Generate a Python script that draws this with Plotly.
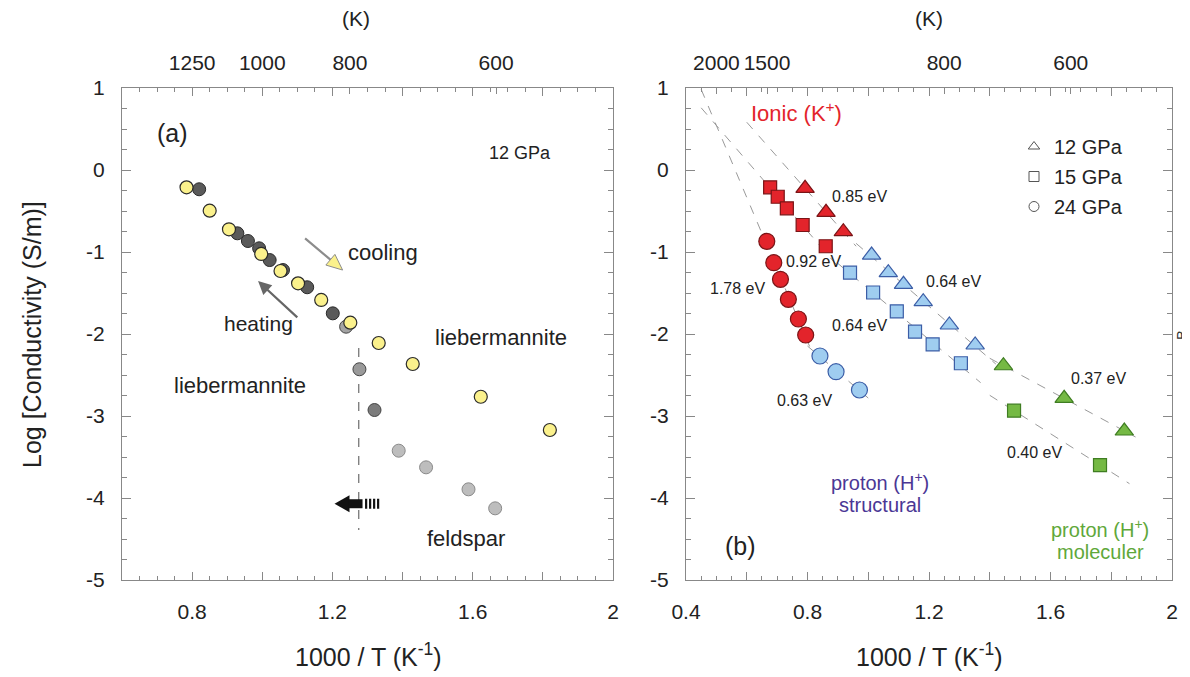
import numpy as np
import plotly.graph_objects as go

# ---------------- data: panel (a) ----------------
cool_x = [0.784, 0.850, 0.905, 0.997, 1.052, 1.102, 1.168, 1.251, 1.332, 1.429, 1.623, 1.820]
cool_y = [-0.211, -0.496, -0.723, -1.024, -1.232, -1.382, -1.585, -1.862, -2.110, -2.366, -2.765, -3.171]
heat_x = [0.820, 0.929, 0.959, 0.991, 1.021, 1.059, 1.128, 1.201]
heat_y = [-0.235, -0.772, -0.866, -0.955, -1.098, -1.220, -1.430, -1.748]
trans_x = [1.239, 1.277, 1.320]
trans_y = [-1.911, -2.430, -2.927]
trans_col = ["#a3a3a3", "#9a9a9a", "#7c7c7c"]
feld_x = [1.389, 1.467, 1.588, 1.664]
feld_y = [-3.423, -3.626, -3.894, -4.126]
transition_x = 1.275
transition_y = [-2.17, -4.39]

# ---------------- data: panel (b) ----------------
tri_ion_x = [0.792, 0.861, 0.918]
tri_ion_y = [-0.223, -0.516, -0.752]
tri_str_x = [1.011, 1.066, 1.116, 1.181, 1.267, 1.352]
tri_str_y = [-1.037, -1.252, -1.394, -1.606, -1.890, -2.134]
tri_mol_x = [1.445, 1.645, 1.843]
tri_mol_y = [-2.387, -2.784, -3.183]
sq_ion_x = [0.677, 0.702, 0.732, 0.784, 0.860]
sq_ion_y = [-0.211, -0.326, -0.467, -0.671, -0.930]
sq_str_x = [0.940, 1.016, 1.094, 1.154, 1.212, 1.305]
sq_str_y = [-1.252, -1.494, -1.723, -1.972, -2.126, -2.357]
sq_mol_x = [1.480, 1.763]
sq_mol_y = [-2.935, -3.598]
ci_ion_x = [0.666, 0.689, 0.711, 0.737, 0.770, 0.794]
ci_ion_y = [-0.870, -1.130, -1.333, -1.577, -1.817, -2.012]
ci_str_x = [0.841, 0.894, 0.971]
ci_str_y = [-2.268, -2.460, -2.683]

# fit-line x extents (xs, ys, x_from, x_to)
fits = [
    (tri_ion_x, tri_ion_y, 0.60, 0.96),
    (tri_str_x, tri_str_y, 0.96, 1.42),
    (tri_mol_x, tri_mol_y, 1.40, 1.88),
    (sq_ion_x[:4], sq_ion_y[:4], 0.45, 0.90),
    (sq_str_x, sq_str_y, 0.90, 1.37),
    (sq_mol_x, sq_mol_y, 1.40, 1.86),
    (ci_ion_x, ci_ion_y, 0.45, 0.82),
    (ci_str_x, ci_str_y, 0.80, 1.00),
]

top_a_T = [1250, 1000, 800, 600]
top_b_T = [2000, 1500, 800, 600]
legend_names = ["12 GPa", "15 GPa", "24 GPa"]
legend_symbols = ["triangle-up-open", "square-open", "circle-open"]

# ---------------- layout geometry ----------------
W, H = 1190, 677
OFF = 8  # page body margin


def PX(px):
    return (px - OFF) / W


def PY(py):
    return 1 - (py - OFF) / H


A_DOM = [PX(122), PX(613)]
B_DOM = [PX(686), PX(1172)]
Y_DOM = [PY(580), PY(88)]
A_RANGE = [0.6, 2.0]
B_RANGE = [0.4, 2.0]
Y_RANGE = [-5, 1]
FONT = "Arial, Liberation Sans, sans-serif"
TXT = "#222222"
TICK_FS = 21

px_per_x_a = (A_DOM[1] - A_DOM[0]) * W / (A_RANGE[1] - A_RANGE[0])
px_per_y = (Y_DOM[1] - Y_DOM[0]) * H / (Y_RANGE[1] - Y_RANGE[0])

fig = go.Figure()

# ----- panel (a) traces -----
fig.add_trace(go.Scatter(x=[transition_x, transition_x], y=transition_y,
                         mode="lines", line=dict(color="#777", width=1.3, dash="dash"),
                         xaxis="x", yaxis="y", showlegend=False, hoverinfo="skip"))
fig.add_trace(go.Scatter(x=feld_x, y=feld_y, mode="markers", xaxis="x", yaxis="y",
                         marker=dict(size=13, color="#bdbdbd", line=dict(color="#8a8a8a", width=1)),
                         showlegend=False))
fig.add_trace(go.Scatter(x=trans_x, y=trans_y, mode="markers", xaxis="x", yaxis="y",
                         marker=dict(size=13, color=trans_col, line=dict(color="#444", width=1)),
                         showlegend=False))
fig.add_trace(go.Scatter(x=heat_x, y=heat_y, mode="markers", xaxis="x", yaxis="y",
                         marker=dict(size=13, color="#5a5a5a", line=dict(color="#2a2a2a", width=1)),
                         showlegend=False))
fig.add_trace(go.Scatter(x=cool_x, y=cool_y, mode="markers", xaxis="x", yaxis="y",
                         marker=dict(size=13, color="#fbf18c", line=dict(color="#2a2a2a", width=1.2)),
                         showlegend=False))

# ----- panel (b) fit lines -----
for xs, ys, x0, x1 in fits:
    k, b = np.polyfit(xs, ys, 1)
    fx = np.array([x0, x1])
    fig.add_trace(go.Scatter(x=fx, y=k * fx + b, mode="lines", xaxis="x2", yaxis="y2",
                             line=dict(color="#9a9a9a", width=1, dash="dash"),
                             showlegend=False, hoverinfo="skip"))

RED, RED_L = "#e3242b", "#7a1416"
BLU, BLU_L = "#9fcdf0", "#3b5da6"
GRN, GRN_L = "#75b944", "#3f7d22"


def pts(x, y, sym, size, fill, edge):
    fig.add_trace(go.Scatter(x=x, y=y, mode="markers", xaxis="x2", yaxis="y2",
                             marker=dict(symbol=sym, size=size, color=fill,
                                         line=dict(color=edge, width=1.2)),
                             showlegend=False))


pts(ci_ion_x, ci_ion_y, "circle", 16, RED, RED_L)
pts(ci_str_x, ci_str_y, "circle", 16, BLU, BLU_L)
pts(sq_ion_x, sq_ion_y, "square", 13, RED, RED_L)
pts(sq_str_x, sq_str_y, "square", 13, BLU, BLU_L)
pts(sq_mol_x, sq_mol_y, "square", 13, GRN, GRN_L)
pts(tri_ion_x, tri_ion_y, "triangle-up", 16, RED, RED_L)
pts(tri_str_x, tri_str_y, "triangle-up", 16, BLU, BLU_L)
pts(tri_mol_x, tri_mol_y, "triangle-up", 16, GRN, GRN_L)

# legend entries
for nm, sym in zip(legend_names, legend_symbols):
    fig.add_trace(go.Scatter(x=[None], y=[None], mode="markers", name=nm, xaxis="x2", yaxis="y2",
                             legendgroup=nm,
                             marker=dict(symbol=sym, size=10, color="#555",
                                         line=dict(color="#555", width=1))))

# dummy traces for top axes
fig.add_trace(go.Scatter(x=[None], y=[None], xaxis="x3", yaxis="y", showlegend=False))
fig.add_trace(go.Scatter(x=[None], y=[None], xaxis="x4", yaxis="y2", showlegend=False))


# ---------------- axes ----------------
def bottom_axis(dom, rng, labels):
    vals = [round(v, 2) for v in np.arange(0.4, 2.0001, 0.2) if v >= rng[0] - 1e-9]
    text = [labels.get(round(v, 2), "") for v in vals]
    return dict(domain=dom, range=rng, tickmode="array", tickvals=vals, ticktext=text,
                ticks="inside", ticklen=8, tickcolor="#888", tickwidth=1,
                minor=dict(dtick=0.05, tick0=0, ticks="inside", ticklen=4, tickcolor="#888"),
                showline=True, linecolor="#888", linewidth=1, mirror="ticks",
                showgrid=False, zeroline=False, ticklabelstandoff=13, automargin=False,
                tickfont=dict(size=TICK_FS, color=TXT, family=FONT))


def left_axis(anchor):
    vals = list(range(-5, 2))
    return dict(domain=Y_DOM, range=Y_RANGE, anchor=anchor, tickmode="array", tickvals=vals,
                ticktext=[str(v) for v in vals],
                ticks="inside", ticklen=9, tickcolor="#888", tickwidth=1,
                minor=dict(dtick=0.25, tick0=0, ticks="inside", ticklen=5, tickcolor="#888"),
                showline=True, linecolor="#888", linewidth=1, mirror="ticks",
                showgrid=False, zeroline=False, ticklabelstandoff=12, automargin=False,
                tickfont=dict(size=TICK_FS, color=TXT, family=FONT))


def top_axis(dom, rng, over, Ts):
    return dict(domain=dom, range=rng, overlaying=over, side="top", anchor="y" if over == "x" else "y2",
                tickmode="array", tickvals=[1000.0 / t for t in Ts], ticktext=[str(t) for t in Ts],
                ticks="inside", ticklen=6, tickcolor="#888", showline=False, showgrid=False,
                zeroline=False, ticklabelstandoff=13, automargin=False,
                tickfont=dict(size=TICK_FS, color=TXT, family=FONT))


fig.update_layout(
    width=W, height=H, margin=dict(l=0, r=0, t=0, b=0, autoexpand=False),
    paper_bgcolor="white", plot_bgcolor="white",
    font=dict(family=FONT, color=TXT),
    xaxis=bottom_axis(A_DOM, A_RANGE, {0.8: "0.8", 1.2: "1.2", 1.6: "1.6", 2.0: "2"}) | dict(anchor="y"),
    xaxis2=bottom_axis(B_DOM, B_RANGE, {0.4: "0.4", 0.8: "0.8", 1.2: "1.2", 1.6: "1.6", 2.0: "2"}) | dict(anchor="y2"),
    xaxis3=top_axis(A_DOM, A_RANGE, "x", top_a_T),
    xaxis4=top_axis(B_DOM, B_RANGE, "x2", top_b_T),
    yaxis=left_axis("x"),
    yaxis2=left_axis("x2"),
    showlegend=True,
    legend=dict(x=PX(1014), y=PY(127), xanchor="left", yanchor="top",
                font=dict(size=20, color=TXT, family=FONT), bgcolor="rgba(0,0,0,0)",
                tracegroupgap=1, itemclick=False),
)

# ---------------- annotations ----------------
ann = []


def t(x, y, text, size=20, color=TXT, ref="", **kw):
    d = dict(x=x, y=y, text=text, showarrow=False, xanchor="center", yanchor="middle",
             font=dict(size=size, color=color, family=FONT))
    if ref == "a":
        d.update(xref="x", yref="y")
    elif ref == "b":
        d.update(xref="x2", yref="y2")
    else:
        d.update(xref="paper", yref="paper", x=PX(x), y=PY(y))
    d.update(kw)
    ann.append(d)


# paper-level titles (reference pixel positions)
t(32, 335, "Log [Conductivity (S/m)]", size=25, textangle=-90)
t(368, 655, "1000 / T (K<sup>-1</sup>)", size=25)
t(929, 655, "1000 / T (K<sup>-1</sup>)", size=25)
t(356, 18, "(K)", size=21)
t(929, 18, "(K)", size=21)
t(1181, 335, "B", size=15, color="#333", textangle=-90)

# panel (a)
t(0.743, 0.451, "(a)", size=25, ref="a")
t(1.735, 0.207, "12 GPa", size=18, ref="a")
t(1.344, -1.0, "cooling", size=22, ref="a")
t(0.988, -1.866, "heating", size=21, ref="a")
t(1.681, -2.037, "liebermannite", size=22, ref="a")
t(0.936, -2.622, "liebermannite", size=22, ref="a")
t(1.581, -4.488, "feldspar", size=22, ref="a")

# panel (b)
t(0.765, 0.707, "Ionic (K<sup>+</sup>)", size=22, color="#e3242b", ref="b")
t(0.970, -0.329, "0.85 eV", size=16, ref="b")
t(0.821, -1.110, "0.92 eV", size=16, ref="b")
t(0.568, -1.451, "1.78 eV", size=16, ref="b")
t(1.279, -1.354, "0.64 eV", size=16, ref="b")
t(0.970, -1.902, "0.64 eV", size=16, ref="b")
t(0.789, -2.805, "0.63 eV", size=16, ref="b")
t(1.757, -2.537, "0.37 eV", size=16, ref="b")
t(1.546, -3.451, "0.40 eV", size=16, ref="b")
t(0.578, -4.585, "(b)", size=25, ref="b")
t(1.039, -3.80, "proton (H<sup>+</sup>)", size=20, color="#4b3795", ref="b")
t(1.039, -4.09, "structural", size=20, color="#4b3795", ref="b")
t(1.763, -4.37, "proton (H<sup>+</sup>)", size=20, color="#5fa83a", ref="b")
t(1.763, -4.66, "moleculer", size=20, color="#5fa83a", ref="b")


# arrows in panel (a): pixel-offset helpers
def da(px, py, x0, y0):
    return x0 + px / px_per_x_a, y0 - py / px_per_y


# heating arrow (tip, tail)
heat_tip = (0.988, -1.355)
hx, hy = da(40.7, 37.6, *heat_tip)
ann.append(dict(x=heat_tip[0], y=heat_tip[1], ax=hx, ay=hy, xref="x", yref="y", axref="x", ayref="y",
                showarrow=True, arrowhead=2, arrowsize=1.2, arrowwidth=2.2, arrowcolor="#666", text=""))

# cooling arrow: grey shaft + yellow head
cool_tip = (1.229, -1.220)
ux, uy = 39 / 51.1, 33 / 51.1
base_px = (-16 * ux, -16 * uy)
bx, by = da(base_px[0], base_px[1], *cool_tip)
tx_, ty_ = da(-39, -33, *cool_tip)
ann.append(dict(x=bx, y=by, ax=tx_, ay=ty_, xref="x", yref="y", axref="x", ayref="y",
                showarrow=True, arrowhead=0, arrowwidth=2.2, arrowcolor="#8c8c8c", text=""))
c1 = da(base_px[0] - 7 * uy, base_px[1] + 7 * ux, *cool_tip)
c2 = da(base_px[0] + 7 * uy, base_px[1] - 7 * ux, *cool_tip)
shapes = [dict(type="path", xref="x", yref="y",
               path=f"M {cool_tip[0]} {cool_tip[1]} L {c1[0]} {c1[1]} L {c2[0]} {c2[1]} Z",
               fillcolor="#fbf18c", line=dict(color="#8c8c8c", width=1))]

# black arrow with hatched tail
arr_tip = (1.206, -4.07)
p1 = da(15, -8.5, *arr_tip)
p2 = da(15, 8.5, *arr_tip)
shapes.append(dict(type="path", xref="x", yref="y",
                   path=f"M {arr_tip[0]} {arr_tip[1]} L {p1[0]} {p1[1]} L {p2[0]} {p2[1]} Z",
                   fillcolor="#111", line=dict(color="#111", width=0)))
r0 = da(14, -4.5, *arr_tip)
r1 = da(28, 4.5, *arr_tip)
shapes.append(dict(type="rect", xref="x", yref="y", x0=r0[0], y0=r0[1], x1=r1[0], y1=r1[1],
                   fillcolor="#111", line=dict(width=0)))
for off in [30.5, 34.5, 38.5, 42.5]:
    s0 = da(off, -5, *arr_tip)
    s1 = da(off + 2.2, 5, *arr_tip)
    shapes.append(dict(type="rect", xref="x", yref="y", x0=s0[0], y0=s0[1], x1=s1[0], y1=s1[1],
                       fillcolor="#111", line=dict(width=0)))

fig.update_layout(annotations=ann, shapes=shapes)
fig.write_html("out.html")
